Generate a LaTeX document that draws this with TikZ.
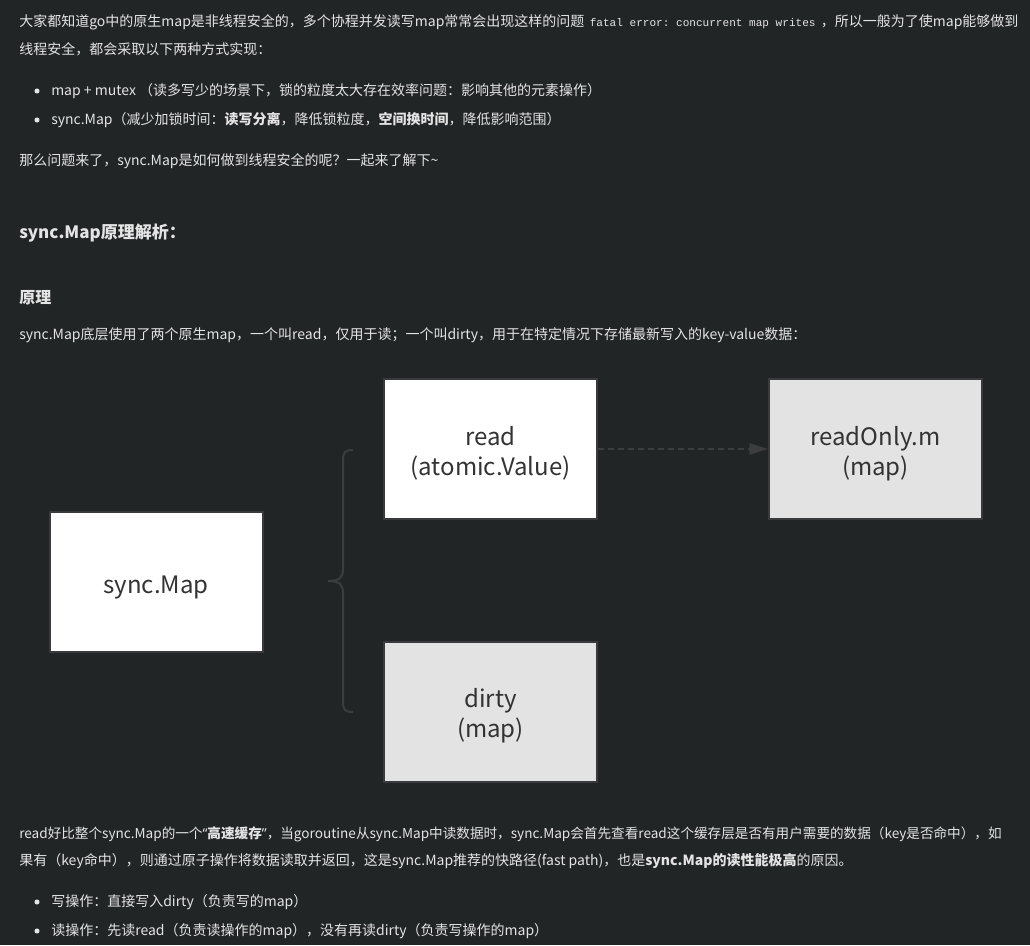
\documentclass[tikz,border=0pt]{standalone}
\usepackage{fontspec}
\setmainfont{Noto Sans CJK SC}
\setmonofont{Liberation Mono}
\newfontfamily\quotefont{Noto Sans}
\usetikzlibrary{arrows.meta}
\definecolor{pagebg}{HTML}{222526}
\definecolor{pagetext}{HTML}{E4E4E4}
\definecolor{boxline}{HTML}{383A3B}
\definecolor{boxgray}{HTML}{E3E3E3}
\definecolor{boxtext}{HTML}{333333}
\definecolor{linkgray}{HTML}{3B3D3E}
\tikzset{
  para/.style={anchor=west, inner sep=0pt, text=pagetext, font=\fontsize{10.5}{12}\selectfont},
  mapbox/.style={draw=boxline, line width=1.5pt, minimum width=159.75pt, minimum height=105pt,
    inner sep=0pt, align=center, text=boxtext, font=\fontsize{18}{22.5}\selectfont},
}
\newcommand{\codebit}[1]{\hspace{4pt}{\fontsize{8.3}{10}\ttfamily #1}\hspace{4pt}}
\newcommand{\boxlift}{\rule{0pt}{21pt}}
\begin{document}
\begin{tikzpicture}[x=0.75pt,y=-0.75pt]
	\fill[pagebg] (0,0) rectangle (1030,945);
	\useasboundingbox (0,0) rectangle (1030,945);
	
	% text above
	\node[para] (t1) at (19,22) {大家都知道go中的原生map是非线程安全的，多个协程并发读写map常常会出现这样的问题\codebit{fatal error: concurrent map writes}，所以一般为了使map能够做到};
	\node[para] (t2) at (19,49) {线程安全，都会采取以下两种方式实现：};
	\node[para] (b1) at (51,91) {map + mutex （读多写少的场景下，锁的粒度太大存在效率问题：影响其他的元素操作）};
	\node[para] (b2) at (51,120) {sync.Map（减少加锁时间：\textbf{读写分离}，降低锁粒度，\textbf{空间换时间}，降低影响范围）};
	\node[para] (t3) at (19,161) {那么问题来了，sync.Map是如何做到线程安全的呢？一起来了解下\textasciitilde};
	\node[para, font=\fontsize{12.75}{15}\bfseries] (h1) at (19,233) {sync.Map原理解析：};
	\node[para, font=\fontsize{12}{14}\bfseries] (h2) at (19,298) {原理};
	\node[para] (t4) at (19,335) {sync.Map底层使用了两个原生map，一个叫read，仅用于读；一个叫dirty，用于在特定情况下存储最新写入的key-value数据：};
	
	% boxes
	\node[mapbox, fill=white] (sm) at (156,582) {\boxlift sync.Map};
	\node[mapbox, fill=white] (rd) at (490.5,449) {\boxlift read\\(atomic.Value)};
	\node[mapbox, fill=boxgray] (ro) at (875.5,449) {\boxlift readOnly.m\\(map)};
	\node[mapbox, fill=boxgray] (dt) at (490.5,711.5) {\boxlift dirty\\(map)};
	
	\draw[linkgray, line width=1.1pt, dash pattern=on 4.5pt off 3pt,
		-{Triangle[length=14pt,width=8.5pt]}] (rd.east) -- (ro.west);
	
	% brace
	\coordinate (bt) at (353,450);
	\coordinate (bm) at (328,581);
	\coordinate (bb) at (353,712);
	\draw[linkgray, line width=1.5pt] (bt) .. controls (345,450) and (343,452) .. (343,461)
		-- (343,569) .. controls (343,577) and (340,581) .. (bm)
		.. controls (340,581) and (343,585) .. (343,593)
		-- (343,701) .. controls (343,710) and (345,712) .. (bb);
	
	% text below
	\node[para, font=\fontsize{10.2}{12}\selectfont] (t5) at (19,834) {read好比整个sync.Map的一个{\quotefont“}\textbf{高速缓存}{\quotefont”}，当goroutine从sync.Map中读数据时，sync.Map会首先查看read这个缓存层是否有用户需要的数据（key是否命中），如};
	\node[para] (t6) at (19,861) {果有（key命中），则通过原子操作将数据读取并返回，这是sync.Map推荐的快路径(fast path)，也是\textbf{sync.Map的读性能极高}的原因。};
	\node[para] (b3) at (51,902) {写操作：直接写入dirty（负责写的map）};
	\node[para] (b4) at (51,931) {读操作：先读read（负责读操作的map），没有再读dirty（负责写操作的map）};
	
	\foreach \y in {91,120,902,931}{
		\fill[pagetext] (37,\y) circle (1.9pt);
	}
\end{tikzpicture}
\end{document}
